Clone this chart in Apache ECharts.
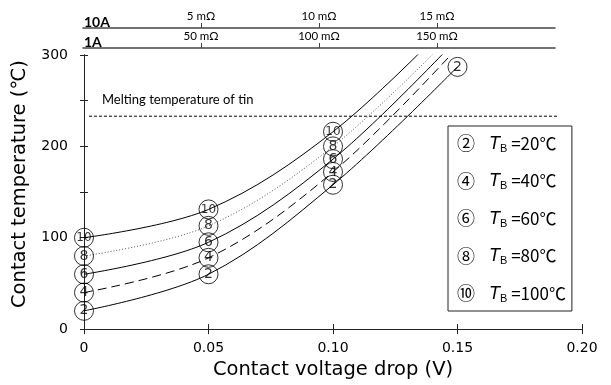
<!DOCTYPE html>
<html>
<head>
<meta charset="utf-8">
<script src="https://cdn.jsdelivr.net/npm/echarts@6/dist/echarts.min.js"></script>
<style>html,body{margin:0;padding:0;background:#fff}#c{width:611px;height:385px}</style>
</head>
<body>
<div id="c"></div>
<script>
// ---- data ----
const voltage = [0, 0.05, 0.10, 0.15];
const tempTB20  = [20, 60, 158, 287];
const tempTB40  = [40, 78, 172, 308];
const tempTB60  = [60, 95, 186, 318];
const tempTB80  = [80, 113, 200, 328];
const tempTB100 = [100, 131, 216, 344];
// how many points of each series carry a circled marker
const markedCount = [4, 3, 3, 3, 3];

const meltingTemp = 233;
const meltingRange = [0.002, 0.19];

const xTickLabels = ['0', '0.05', '0.10', '0.15', '0.20'];
const yTickLabels = ['0', '100', '200', '300'];
const res1ATicks = [50, 100, 150];
const res10ATicks = [5, 10, 15];

const tbValues = [20, 40, 60, 80, 100];
const tbNumbers = ['2', '4', '6', '8', '10'];
const tbCircled = ['②', '④', '⑥', '⑧', '⑩'];

// ---- chart ----
const chart = echarts.init(document.getElementById('c'));
const F = '"DejaVu Sans", sans-serif';
const FJ = '"Noto Sans CJK JP", sans-serif';
const axisCol = '#222';

const curves = [tempTB20, tempTB40, tempTB60, tempTB80, tempTB100];
const lineTypes = ['solid', [9, 5], 'solid', [1, 2], 'solid'];
const lineCols = ['#000', '#000', '#000', '#555', '#000'];

const series = [];
curves.forEach((arr, i) => {
  series.push({
    type: 'line', xAxisIndex: 0, yAxisIndex: 0, smooth: 0.35, symbol: 'none', silent: true,
    data: voltage.map((v, k) => [v, arr[k]]),
    lineStyle: { color: lineCols[i], width: 1, type: lineTypes[i] },
    z: 2
  });
});
series.push({
  type: 'line', xAxisIndex: 0, yAxisIndex: 0, symbol: 'none', silent: true,
  data: meltingRange.map(v => [v, meltingTemp]),
  lineStyle: { color: '#000', width: 1, type: [3, 2] }, z: 2
});
curves.forEach((arr, i) => {
  const d = voltage.slice(0, markedCount[i]).map((v, k) => [v, arr[k]]);
  series.push({
    name: 'TB' + tbValues[i],
    type: 'scatter', xAxisIndex: 0, yAxisIndex: 0,
    symbol: 'circle', symbolSize: 19,
    data: d,
    itemStyle: { color: 'rgba(255,255,255,0)', borderColor: '#000', borderWidth: 1 },
    label: { show: true, position: 'inside', formatter: tbNumbers[i], fontFamily: F,
      fontSize: tbNumbers[i].length > 1 ? 12 : 14, letterSpacing: tbNumbers[i].length > 1 ? -1 : 0, color: '#000' },
    z: 3
  });
});

const rich = {
  c: { fontFamily: FJ, fontSize: 18, color: '#000', lineHeight: 21, padding: [0, 14, 0, 0] },
  t: { fontFamily: '"Liberation Sans", Arial, sans-serif', fontStyle: 'italic', fontSize: 18, color: '#000', lineHeight: 21 },
  s: { fontFamily: '"Liberation Sans", Arial, sans-serif', fontSize: 11, color: '#000', lineHeight: 21, verticalAlign: 'bottom', padding: [10, 0, 0, 0] },
  e: { fontFamily: FJ, fontSize: 17, color: '#000', lineHeight: 21 }
};

const option = {
  animation: false,
  backgroundColor: '#fff',
  grid: [
    { left: 84, right: 29, top: 55, bottom: 52 },
    { left: 83, width: 472, top: 48, height: 0 },
    { left: 83, width: 472, top: 28, height: 0 }
  ],
  xAxis: [
    {
      gridIndex: 0, type: 'value', min: 0, max: 0.2, interval: 0.05, position: 'bottom',
      axisLine: { show: true, lineStyle: { color: axisCol, width: 1 } },
      axisTick: { show: true, inside: true, length: 5, lineStyle: { color: axisCol } },
      splitLine: { show: false },
      axisLabel: { fontFamily: F, fontSize: 14, color: '#000', margin: 12,
        formatter: (v) => xTickLabels[Math.round(v / 0.05)] },
      name: 'Contact voltage drop (V)', nameLocation: 'middle', nameGap: 27,
      nameTextStyle: { fontFamily: F, fontSize: 19.5, color: '#000' }
    },
    {
      gridIndex: 0, type: 'value', min: 0, max: 0.2, interval: 0.05, position: 'top',
      axisLine: { show: true, lineStyle: { color: axisCol, width: 1 } },
      axisTick: { show: true, inside: true, length: 5, lineStyle: { color: axisCol } },
      axisLabel: { show: false }, splitLine: { show: false }
    },
    {
      gridIndex: 1, type: 'value', min: 0, max: 200, position: 'top',
      axisLine: { show: true, lineStyle: { color: '#444', width: 1.5 } },
      axisTick: { show: true, inside: false, length: 5, customValues: res1ATicks, lineStyle: { color: '#444' } },
      axisLabel: { show: true, customValues: res1ATicks, margin: 6, fontFamily: 'Lato, sans-serif', fontSize: 11.5, color: '#000',
        formatter: (v) => v + ' mΩ' },
      splitLine: { show: false }
    },
    {
      gridIndex: 2, type: 'value', min: 0, max: 20, position: 'top',
      axisLine: { show: true, lineStyle: { color: '#444', width: 1.5 } },
      axisTick: { show: true, inside: false, length: 5, customValues: res10ATicks, lineStyle: { color: '#444' } },
      axisLabel: { show: true, customValues: res10ATicks, margin: 6, fontFamily: 'Lato, sans-serif', fontSize: 11.5, color: '#000',
        formatter: (v) => v + ' mΩ' },
      splitLine: { show: false }
    }
  ],
  yAxis: [
    {
      gridIndex: 0, type: 'value', min: 0, max: 300, interval: 50, position: 'left',
      axisLine: { show: true, lineStyle: { color: axisCol, width: 1 } },
      axisTick: { show: true, inside: true, length: 4, lineStyle: { color: axisCol } },
      splitLine: { show: false },
      axisLabel: { fontFamily: F, fontSize: 14, color: '#000', margin: 16,
        formatter: (v) => (v % 100 === 0 ? yTickLabels[v / 100] : '') },
      name: 'Contact temperature (℃)', nameLocation: 'middle', nameGap: 36, nameRotate: 90,
      nameTextStyle: { fontFamily: F, fontSize: 19.5, color: '#000', padding: [0, 0, 0, 16] }
    },
    {
      gridIndex: 0, type: 'value', min: 0, max: 300, interval: 50, position: 'right',
      axisLine: { show: true, lineStyle: { color: axisCol, width: 1 } },
      axisTick: { show: true, inside: true, length: 4, lineStyle: { color: axisCol } },
      axisLabel: { show: false }, splitLine: { show: false }
    },
    { gridIndex: 1, type: 'value', show: false },
    { gridIndex: 2, type: 'value', show: false }
  ],
  legend: {
    orient: 'vertical', left: 448, top: 126,
    data: tbValues.map(v => 'TB' + v),
    icon: 'none', itemWidth: 0, itemHeight: 0, itemGap: 16.5,
    padding: [7, 6, 7, 4],
    borderColor: '#222', borderWidth: 1,
    selectedMode: false,
    formatter: (name) => {
      const i = tbValues.indexOf(+name.slice(2));
      return '{c|' + tbCircled[i] + '}{t|T}{s|B}{e| =' + tbValues[i] + '℃}';
    },
    textStyle: { rich: rich }
  },
  graphic: [
    { type: 'text', left: 84, top: 15, style: { text: '10A', font: 'bold 14px Lato, sans-serif', fill: '#000' } },
    { type: 'text', left: 84, top: 35, style: { text: '1A', font: 'bold 14px Lato, sans-serif', fill: '#000' } },
    { type: 'text', left: 102, top: 93, style: { text: 'Melting temperature of tin', font: '13px Lato, sans-serif', fill: '#000' } }
  ],
  series: series
};
chart.setOption(option);
</script>
</body>
</html>
